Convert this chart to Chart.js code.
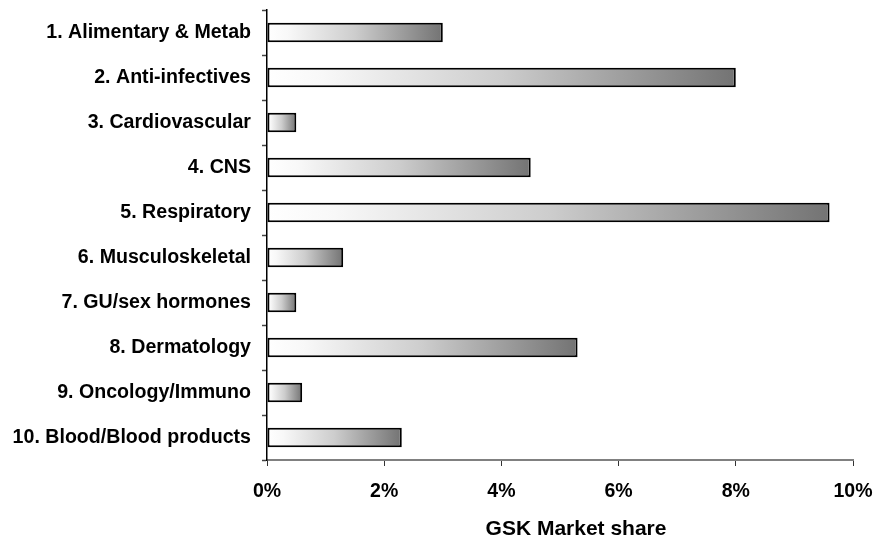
<!DOCTYPE html>
<html>
<head>
<meta charset="utf-8">
<script src="https://cdn.jsdelivr.net/npm/chart.js@4/dist/chart.umd.min.js"></script>
<style>
  html, body { margin: 0; padding: 0; background: #fff; }
  #wrap { width: 879px; height: 538px; position: relative; }
</style>
</head>
<body>
<div id="wrap"><canvas id="c" width="879" height="538"></canvas></div>
<script>
const categories = [
  "1. Alimentary & Metab",
  "2. Anti-infectives",
  "3. Cardiovascular",
  "4. CNS",
  "5. Respiratory",
  "6. Musculoskeletal",
  "7. GU/sex hormones",
  "8. Dermatology",
  "9. Oncology/Immuno",
  "10. Blood/Blood products"
];
const marketShare = [3.0, 8.0, 0.5, 4.5, 9.6, 1.3, 0.5, 5.3, 0.6, 2.3];
const xTickValues = [0, 2, 4, 6, 8, 10];
const axisTitle = "GSK Market share";

const FONT = '"Liberation Sans", Arial, Helvetica, sans-serif';

function barGradient(ctx) {
  const chart = ctx.chart;
  if (!chart.chartArea || !chart.scales.x) return '#bbbbbb';
  const x = chart.scales.x;
  const v = ctx.raw;
  const x0 = x.getPixelForValue(0);
  const x1 = x.getPixelForValue(v);
  if (!isFinite(x0) || !isFinite(x1) || x1 - x0 < 1) return '#bbbbbb';
  const g = chart.ctx.createLinearGradient(x0, 0, x1, 0);
  g.addColorStop(0, '#ffffff');
  g.addColorStop(0.12, '#f8f8f8');
  g.addColorStop(0.5, '#cdcdcd');
  g.addColorStop(1, '#737373');
  return g;
}

const titlePlugin = {
  id: 'bottomTitle',
  afterDraw(chart) {
    const ca = chart.chartArea;
    const c = chart.ctx;
    c.save();
    c.font = 'bold 21px ' + FONT;
    c.fillStyle = '#000';
    c.textAlign = 'center';
    c.textBaseline = 'alphabetic';
    c.fillText(axisTitle, (ca.left + ca.right) / 2 + 16, 535);
    c.restore();
  }
};

new Chart(document.getElementById('c'), {
  type: 'bar',
  data: {
    labels: categories,
    datasets: [{
      data: marketShare,
      backgroundColor: barGradient,
      borderColor: '#000000',
      borderWidth: 2,
      borderSkipped: false,
      categoryPercentage: 1.0,
      barPercentage: 0.43
    }]
  },
  options: {
    indexAxis: 'y',
    responsive: false,
    animation: false,
    devicePixelRatio: 1,
    layout: { padding: { top: 10, right: 26, bottom: 0, left: 0 } },
    plugins: {
      legend: { display: false },
      tooltip: { enabled: false },
      title: { display: false }
    },
    scales: {
      x: {
        type: 'linear',
        min: 0,
        max: 10,
        afterBuildTicks(scale) {
          scale.ticks = xTickValues.map(v => ({ value: v }));
        },
        afterFit(scale) {
          scale.height = 78;
          scale.paddingLeft = 0; scale.paddingRight = 0;
          scale.paddingTop = 0; scale.paddingBottom = 0;
        },
        ticks: {
          color: '#000',
          font: { family: FONT, size: 19.5, weight: 'bold' },
          padding: 14,
          maxRotation: 0,
          callback: v => v + '%'
        },
        grid: {
          drawOnChartArea: false,
          drawTicks: true,
          tickLength: 6,
          tickColor: '#333',
          tickWidth: 1
        },
        border: { display: true, color: '#808080', width: 2 }
      },
      y: {
        afterFit(scale) {
          scale.width = 267;
          scale.paddingLeft = 0; scale.paddingRight = 0;
          scale.paddingTop = 0; scale.paddingBottom = 0;
        },
        ticks: {
          color: '#000',
          font: { family: FONT, size: 19.6, weight: 'bold' },
          padding: 11,
          autoSkip: false
        },
        grid: {
          drawOnChartArea: false,
          drawTicks: true,
          offset: true,
          tickLength: 5,
          tickColor: '#444',
          tickWidth: 1.5
        },
        border: { display: true, color: '#000', width: 1.5 }
      }
    }
  },
  plugins: [titlePlugin]
});
</script>
</body>
</html>
